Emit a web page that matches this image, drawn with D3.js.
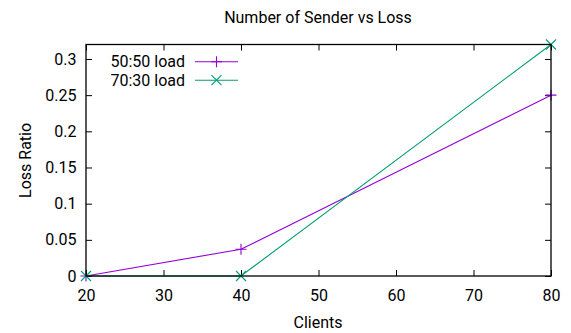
<!DOCTYPE html>
<html><head><meta charset="utf-8">
<script src="https://cdn.jsdelivr.net/npm/d3@7"></script>
<style>body{margin:0;background:#fff}svg{display:block}text{font-family:Roboto,"Noto Sans",sans-serif;fill:#000}</style>
</head><body>
<script>
const clients = [20, 40, 80];
const load5050 = [0, 0.037, 0.25];
const load7030 = [0, 0, 0.32];
const seriesNames = ["50:50 load", "70:30 load"];
const xTicks = [20, 30, 40, 50, 60, 70, 80];
const yTicks = [0, 0.05, 0.1, 0.15, 0.2, 0.25, 0.3];
const yTickLabels = ["0", "0.05", "0.1", "0.15", "0.2", "0.25", "0.3"];

const W = 571, H = 333;
const m = {l: 86, r: 551, t: 44.5, b: 276};
const svg = d3.select("body").append("svg").attr("width", W).attr("height", H);
const x = d3.scaleLinear().domain([20, 80]).range([m.l, m.r]);
const y = d3.scaleLinear().domain([0, 0.32]).range([m.b, m.t]);
const fs = 16;

// axes with inward ticks
const tl = 6;
svg.append("g").attr("transform", `translate(0,${m.b})`)
  .call(d3.axisBottom(x).tickValues(xTicks).tickSize(-tl).tickPadding(14).tickFormat(d3.format("d")))
  .call(g => { g.select(".domain").remove(); g.selectAll("text").attr("font-size", fs).attr("font-family", "Roboto").attr("dy", "0.71em"); });
svg.append("g").attr("transform", `translate(0,${m.t})`)
  .call(d3.axisTop(x).tickValues(xTicks).tickSize(-tl).tickFormat(""))
  .call(g => g.select(".domain").remove());
svg.append("g").attr("transform", `translate(${m.l},0)`)
  .call(d3.axisLeft(y).tickValues(yTicks).tickSize(-tl).tickPadding(9.5).tickFormat((d, i) => yTickLabels[i]))
  .call(g => { g.select(".domain").remove(); g.selectAll("text").attr("font-size", fs).attr("font-family", "Roboto"); });
svg.append("g").attr("transform", `translate(${m.r},0)`)
  .call(d3.axisRight(y).tickValues(yTicks).tickSize(-tl).tickFormat(""))
  .call(g => g.select(".domain").remove());
svg.selectAll(".tick line").attr("stroke", "#000").attr("stroke-width", 1);

// series
const colors = ["#9400d3", "#009e73"];
const data = [load5050, load7030];
const line = d3.line().x((d, i) => x(clients[i])).y(d => y(d));
const plusPath = s => `M${-s},0H${s}M0,${-s}V${s}`;
const crossPath = s => `M${-s},${-s}L${s},${s}M${-s},${s}L${s},${-s}`;
const markers = [plusPath(5.5), crossPath(5)];
data.forEach((vals, k) => {
  svg.append("path").datum(vals).attr("d", line).attr("fill", "none").attr("stroke", colors[k]).attr("stroke-width", 1.1);
  svg.selectAll(null).data(vals).enter().append("path")
    .attr("transform", (d, i) => `translate(${x(clients[i])},${y(d)})`)
    .attr("d", markers[k]).attr("stroke", colors[k]).attr("stroke-width", 1.1).attr("fill", "none");
});

// border
svg.append("rect").attr("x", m.l).attr("y", m.t).attr("width", m.r - m.l).attr("height", m.b - m.t)
  .attr("fill", "none").attr("stroke", "#000").attr("stroke-width", 1.3);

// legend
seriesNames.forEach((name, k) => {
  const ly = 61.7 + k * 18.5;
  svg.append("text").attr("x", 185).attr("y", ly).attr("dy", "0.35em").attr("text-anchor", "end").attr("font-size", fs).text(name);
  svg.append("line").attr("x1", 195).attr("x2", 238).attr("y1", ly).attr("y2", ly).attr("stroke", colors[k]).attr("stroke-width", 1.1);
  svg.append("path").attr("transform", `translate(216.5,${ly})`).attr("d", markers[k]).attr("stroke", colors[k]).attr("stroke-width", 1.1);
});

// titles
svg.append("text").attr("x", 318).attr("y", 23).attr("text-anchor", "middle").attr("font-size", fs).text("Number of Sender vs Loss");
svg.append("text").attr("x", 318).attr("y", 328).attr("text-anchor", "middle").attr("font-size", fs).text("Clients");
svg.append("text").attr("transform", "translate(30.5,160.4) rotate(-90)").attr("text-anchor", "middle").attr("font-size", fs).text("Loss Ratio");
</script>
</body></html>
